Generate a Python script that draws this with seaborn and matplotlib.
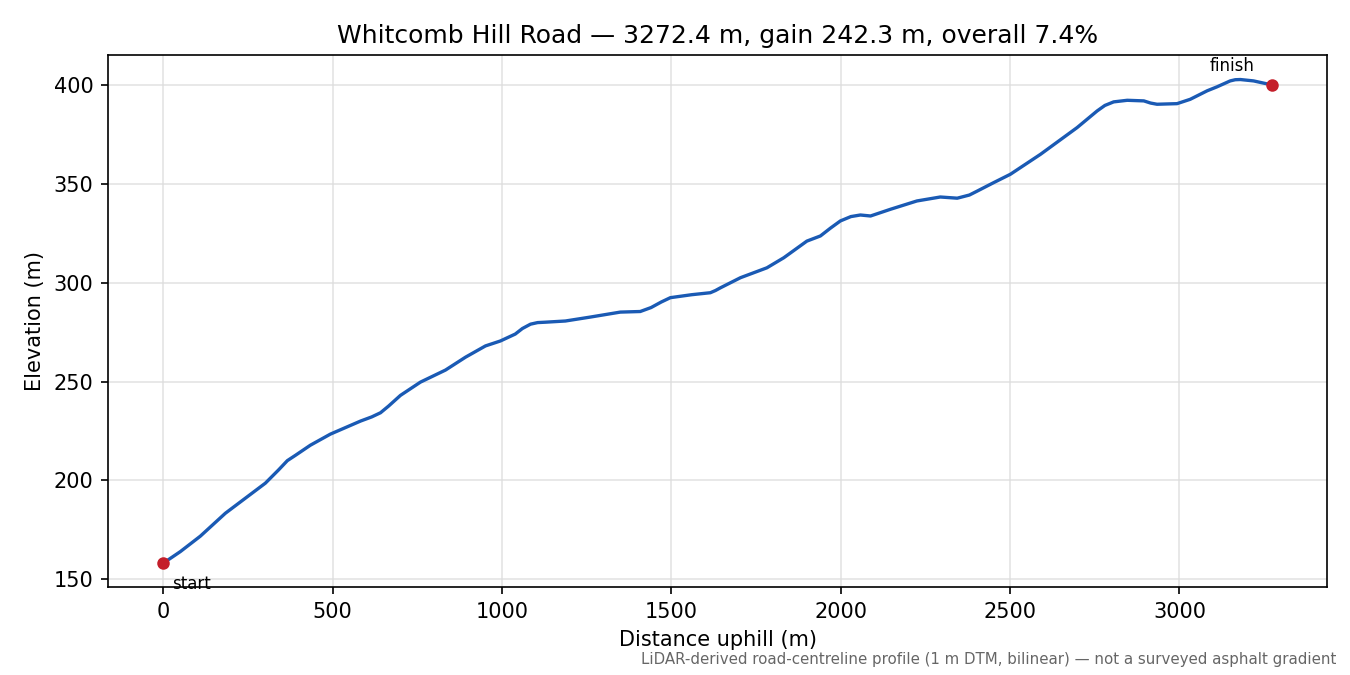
import matplotlib
matplotlib.use("Agg")
import matplotlib.pyplot as plt
import seaborn as sns
import pandas as pd

distance_m = [0, 50, 109, 183, 242, 301, 340, 366, 390, 434, 493, 582, 615, 641, 665,
              700, 759, 833, 892, 951, 995, 1039, 1060, 1084, 1105, 1128, 1187, 1261,
              1349, 1408, 1440, 1470, 1497, 1560, 1615, 1630, 1645, 1704, 1782, 1832,
              1900, 1940, 1970, 1999, 2030, 2058, 2088, 2147, 2225, 2294, 2344, 2380,
              2402, 2452, 2501, 2590, 2698, 2757, 2780, 2806, 2846, 2895, 2915, 2934,
              2993, 3032, 3082, 3111, 3150, 3165, 3180, 3219, 3272.4]
elevation_m = [158.2, 164.0, 171.8, 183.4, 191.0, 198.6, 205.3, 210.0, 212.7, 217.8,
               223.4, 230.0, 232.1, 234.2, 237.6, 243.0, 249.7, 255.8, 262.3, 268.0,
               270.5, 274.0, 276.8, 279.0, 279.8, 280.0, 280.6, 282.6, 285.1, 285.4,
               287.4, 290.2, 292.4, 293.9, 294.9, 296.0, 297.4, 302.5, 307.5, 312.6,
               321.0, 323.6, 327.6, 331.2, 333.4, 334.2, 333.7, 337.1, 341.3, 343.3,
               342.7, 344.3, 346.2, 350.6, 354.8, 364.9, 378.4, 386.8, 389.6, 391.4,
               392.2, 391.9, 390.8, 390.2, 390.5, 392.7, 397.0, 399.0, 402.0, 402.6,
               402.7, 402.0, 400.0]
title_text = "Whitcomb Hill Road \u2014 3272.4 m, gain 242.3 m, overall 7.4%"
note_text = "LiDAR-derived road-centreline profile (1 m DTM, bilinear) \u2014 not a surveyed asphalt gradient"

df = pd.DataFrame({"d": distance_m, "e": elevation_m})

plt.rcParams["font.family"] = ["DejaVu Sans"]
fig, ax = plt.subplots(figsize=(9, 4.5), dpi=150)
sns.lineplot(data=df, x="d", y="e", ax=ax, color="#1a5ab4", lw=1.6)
ax.plot([distance_m[0], distance_m[-1]], [elevation_m[0], elevation_m[-1]], "o",
        color="#c41e2a", ms=5, zorder=5)
ax.annotate("start", (distance_m[0], elevation_m[0]), xytext=(4, -10),
            textcoords="offset points", fontsize=8, va="center", ha="left")
ax.annotate("finish", (distance_m[-1], elevation_m[-1]), xytext=(-19, 9),
            textcoords="offset points", fontsize=8, va="center", ha="center")
ax.grid(True, color="#dddddd", lw=0.8, alpha=0.8)
ax.set_axisbelow(True)
ax.set_title(title_text, fontsize=12)
ax.set_xlabel("Distance uphill (m)")
ax.set_ylabel("Elevation (m)")
fig.text(0.99, 0.012, note_text, ha="right", va="bottom", fontsize=7.2, color="#666666")
fig.subplots_adjust(left=0.08, right=0.983, top=0.918, bottom=0.13)
fig.savefig("out.png", dpi=150)
